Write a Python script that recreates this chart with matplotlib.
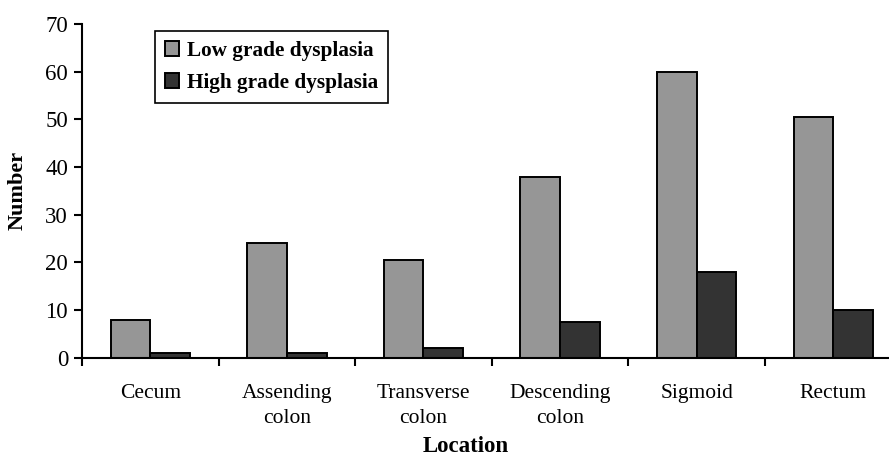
import numpy as np
import matplotlib.pyplot as plt

# =====================================
# DATA
# =====================================

locations = ["Cecum", "Assending\ncolon", "Transverse\ncolon",
             "Descending\ncolon", "Sigmoid", "Rectum"]
low_grade = [8, 24, 20.5, 38, 60, 50.5]
high_grade = [1, 1, 2, 7.5, 18, 10]
series_names = ["Low grade dysplasia", "High grade dysplasia"]

# =====================================
# STYLE
# =====================================

plt.rcParams["font.family"] = ["Liberation Serif", "DejaVu Serif"]

fig = plt.figure(figsize=(8.89, 4.58), dpi=100)
ax = fig.add_axes([82 / 889, 1 - 357.7 / 458, 6 * 136.6 / 889, 333.7 / 458])

x = np.arange(len(locations)) + 0.5
w = 0.29

ax.bar(x - w / 2, low_grade, width=w, color="#969696",
       edgecolor="black", linewidth=1.4, label=series_names[0])
ax.bar(x + w / 2, high_grade, width=w, color="#333333",
       edgecolor="black", linewidth=1.4, label=series_names[1])

ax.set_xlim(0, len(locations))
ax.set_ylim(0, 70)
ax.set_yticks(range(0, 71, 10))

# category boundary ticks, labels centred between them
ax.set_xticks(range(len(locations) + 1))
ax.set_xticklabels([])
ax.set_xticks(x, minor=True)
ax.set_xticklabels(locations, minor=True, fontsize=15.5, linespacing=1.45)
ax.tick_params(axis="x", which="minor", length=0, pad=19)
ax.tick_params(axis="x", which="major", length=6, width=1.5, direction="out")
ax.tick_params(axis="y", length=6, width=1.5, direction="out", labelsize=16.5, pad=4)

for side in ["top", "right"]:
    ax.spines[side].set_visible(False)
for side in ["left", "bottom"]:
    ax.spines[side].set_linewidth(1.5)

fig.text(18 / 889, 0.5 * ((1 - 357.7 / 458) + (1 - 24 / 458)), "Number",
         rotation=90, ha="center", va="center", fontsize=16, fontweight="bold")
fig.text(466 / 889, 1 - 447 / 458, "Location",
         ha="center", va="center", fontsize=16.5, fontweight="bold")

leg = ax.legend(loc="upper left", bbox_to_anchor=(155 / 889, 1 - 31 / 458),
                bbox_transform=fig.transFigure, fancybox=False, framealpha=1,
                edgecolor="black", prop={"size": 15.3, "weight": "bold"},
                handlelength=0.7, handleheight=0.7, handletextpad=0.35,
                labelspacing=0.6, borderpad=0.45, borderaxespad=0)
leg.get_frame().set_linewidth(1.2)

fig.savefig("out.png", dpi=100)
